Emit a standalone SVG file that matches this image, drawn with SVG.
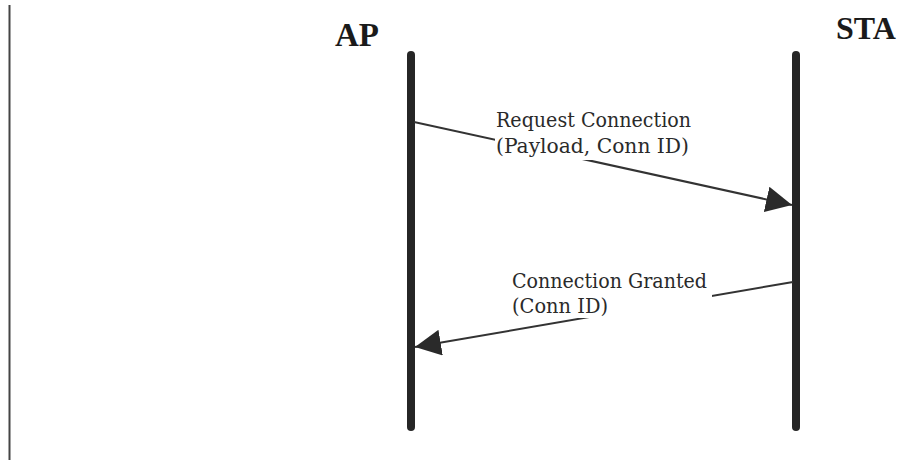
<svg xmlns="http://www.w3.org/2000/svg" width="904" height="460" viewBox="0 0 904 460">
  <style>
    .head { font-family: "Liberation Serif", "Times New Roman", serif; font-weight: bold; fill: #1a1a1a; }
    .life { stroke: #262626; stroke-width: 8; stroke-linecap: round; fill: none; }
    .msg { stroke: #333333; stroke-width: 2; fill: none; marker-end: url(#arrow); }
    .lbl { font-family: "DejaVu Serif", "Liberation Serif", serif; font-size: 20px; fill: #2a2a2a; }
    .bg { fill: #ffffff; }
  </style>
  <defs>
    <marker id="arrow" markerUnits="userSpaceOnUse" markerWidth="26" markerHeight="26" refX="26" refY="13" orient="auto" viewBox="0 0 26 26">
      <path d="M0,0 L26,13 L0,26 Z" fill="#2a2a2a"/>
    </marker>
  </defs>
  <rect width="904" height="460" fill="#ffffff"/>
  <line x1="9.5" y1="5" x2="9.5" y2="460" stroke="#444444" stroke-width="2"/>
  <g id="AP">
    <line class="life" x1="411" y1="55" x2="411" y2="427"/>
    <text class="head" x="335" y="46" font-size="33">AP</text>
  </g>
  <g id="STA">
    <line class="life" x1="796" y1="55" x2="796" y2="427"/>
    <text class="head" x="836" y="39" font-size="32">STA</text>
  </g>
  <g id="connectors">
    <g id="msg1">
      <line class="msg" x1="414" y1="122" x2="792" y2="205"/>
      <rect class="bg" x="495" y="107" width="197" height="53"/>
      <text class="lbl" x="496" y="127" textLength="195" lengthAdjust="spacingAndGlyphs">Request Connection</text>
      <text class="lbl" x="496" y="153" textLength="193" lengthAdjust="spacingAndGlyphs">(Payload, Conn ID)</text>
    </g>
    <g id="msg2">
      <line class="msg" x1="793" y1="282" x2="415" y2="347"/>
      <rect class="bg" x="510" y="268" width="202" height="50"/>
      <text class="lbl" x="512" y="288" textLength="195" lengthAdjust="spacingAndGlyphs">Connection Granted</text>
      <text class="lbl" x="512" y="313" textLength="96" lengthAdjust="spacingAndGlyphs">(Conn ID)</text>
    </g>
  </g>
</svg>
